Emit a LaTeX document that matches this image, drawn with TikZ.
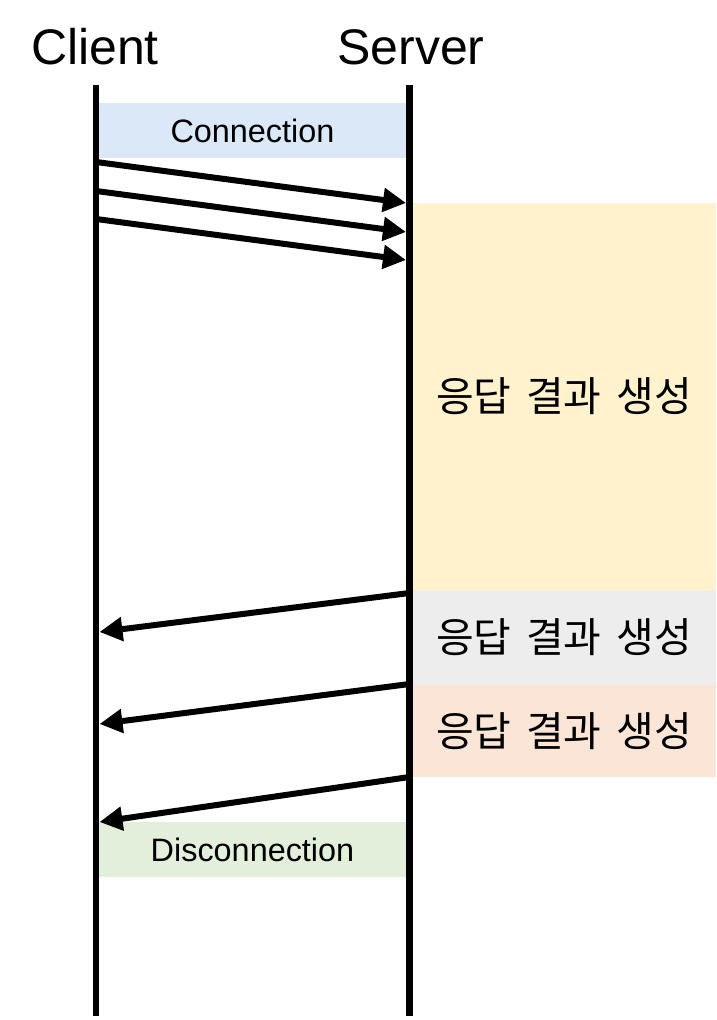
\documentclass[tikz,border=0pt]{standalone}
\usepackage{fontspec}
\setmainfont{Liberation Sans}
\newfontfamily\krfont{Noto Sans CJK KR}[WordSpace=1.6]
\usetikzlibrary{arrows.meta,positioning}
\definecolor{ConnBlue}{RGB}{218,232,248}
\definecolor{GenYellow}{RGB}{255,242,204}
\definecolor{GenGray}{RGB}{237,237,237}
\definecolor{GenPeach}{RGB}{251,229,214}
\definecolor{DiscGreen}{RGB}{226,239,218}

\begin{document}
\begin{tikzpicture}[x=0.5pt,y=-0.5pt,
    actor/.style={font=\fontsize{25}{30}\selectfont},
    phase/.style={anchor=north west, inner sep=0pt, outer sep=0pt, minimum width=153.5pt, minimum height=27.5pt, font=\fontsize{16.2}{19}\selectfont},
    work/.style={anchor=north west, inner sep=0pt, outer sep=0pt, minimum width=152pt, font=\krfont\fontsize{20.5}{24}\selectfont},
    lifeline/.style={line width=3.3pt},
    msg/.style={line width=3pt, -{Triangle[length=11.5pt,width=11.5pt]}}]
    \useasboundingbox (0,0) rectangle (716,1020);
    % Actors
    \node[actor] (client) at (95,47) {Client};
    \node[actor] (server) at (411,47) {Server};
    % Phases
    \node[phase, fill=ConnBlue] (conn) at (99,103) {Connection};
    \node[phase, fill=DiscGreen] (disc) at (99,822) {Disconnection};
    % Response generation
    \node[work, fill=GenYellow, minimum height=193.5pt] (gen1) at (412,203) {응답 결과 생성};
    \node[work, fill=GenGray, minimum height=47.5pt] (gen2) at (412,590) {응답 결과 생성};
    \node[work, fill=GenPeach, minimum height=46pt] (gen3) at (412,685) {응답 결과 생성};
    % Lifelines
    \coordinate (ctop) at (96,85);
    \coordinate (cbot) at (96,1016);
    \coordinate (stop) at (409.5,85);
    \coordinate (sbot) at (409.5,1016);
    \draw[lifeline] (ctop) -- (cbot);
    \draw[lifeline] (stop) -- (sbot);
    % Requests
    \foreach \i/\y in {1/162,2/191,3/219} {
        \coordinate (req\i) at (96,\y);
        \coordinate (rcv\i) at (406,\y+41);
        \draw[msg] (req\i) -- (rcv\i);
    }
    % Responses
    \foreach \i/\y/\z in {1/593/632,2/684/724,3/777/822} {
        \coordinate (res\i) at (409.5,\y);
        \coordinate (got\i) at (99.5,\z);
        \draw[msg] (res\i) -- (got\i);
    }
\end{tikzpicture}
\end{document}
